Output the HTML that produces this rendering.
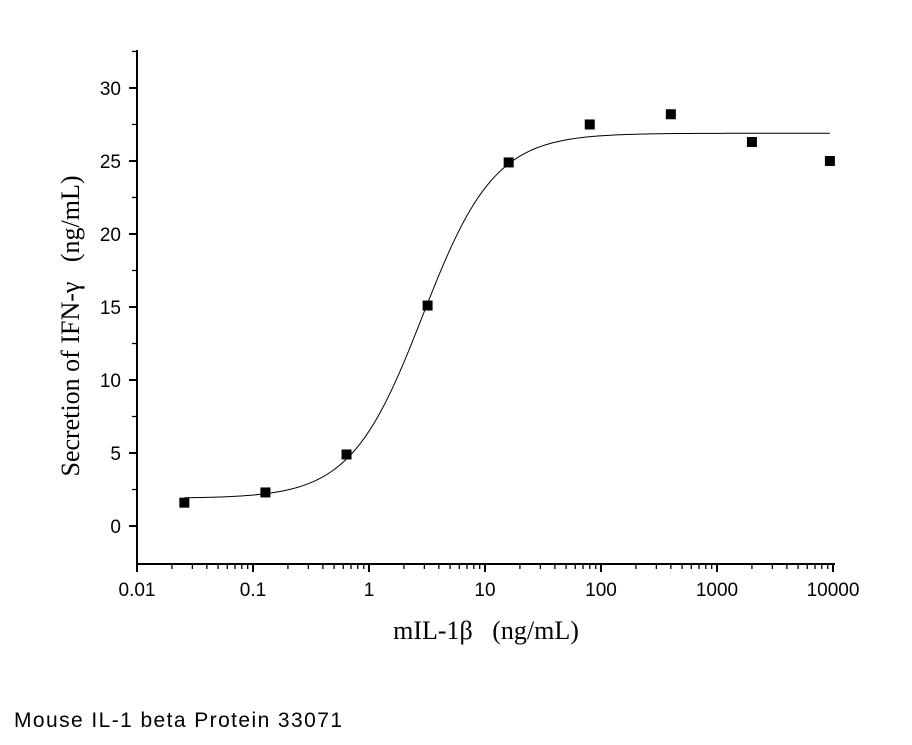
<!DOCTYPE html>
<html><head><meta charset="utf-8"><style>
body{margin:0;background:#fff;}
svg{display:block}
</style></head><body>
<svg id="chart" width="912" height="745" xmlns="http://www.w3.org/2000/svg">
<g id="axes"></g><g id="curve"></g><g id="points"></g>
<text x="14" y="727" font-family="Liberation Sans, sans-serif" font-size="21" textLength="328" lengthAdjust="spacing">Mouse IL-1 beta Protein 33071</text>
<text x="486" y="639" text-anchor="middle" font-family="Liberation Serif, serif" font-size="26" xml:space="preserve" style="white-space:pre">mIL-1β   (ng/mL)</text>
<text transform="translate(79,326) rotate(-90)" text-anchor="middle" font-family="Liberation Serif, serif" font-size="26" xml:space="preserve" style="white-space:pre">Secretion of IFN-γ   (ng/mL)</text>
</svg>
<script>
const doses=[0.0256,0.128,0.64,3.2,16,80,400,2000,9400];
const secretion=[1.6,2.3,4.9,15.1,24.9,27.5,28.2,26.3,25.0];
const xTicks=[0.01,0.1,1,10,100,1000,10000];
const xTickLabels=["0.01","0.1","1","10","100","1000","10000"];
const yTicks=[0,5,10,15,20,25,30];
const fitParams=[1.9,26.9,2.9,1.4]; // bottom, top, EC50, hill

const NS="http://www.w3.org/2000/svg";
const X0=137,X1=833,Y0=564,Y1=50;
const xMin=-2,xMax=4,yMin=-2.6,yMax=32.6;
function xs(v){return X0+(Math.log10(v)-xMin)/(xMax-xMin)*(X1-X0);}
function ys(v){return Y0-(v-yMin)/(yMax-yMin)*(Y0-Y1);}
function mk(tag,attrs,parent){const e=document.createElementNS(NS,tag);for(const k in attrs)e.setAttribute(k,attrs[k]);parent.appendChild(e);return e;}
const axes=document.getElementById('axes');
let a=mk('line',{x1:X0,y1:Y1,x2:X0,y2:Y0,stroke:'#000','stroke-width':2},axes);


a=mk('line',{x1:X0,y1:Y0,x2:X1+2,y2:Y0,stroke:'#000','stroke-width':2},axes);


xTicks.forEach((t,i)=>{
  const x=xs(t);
  mk('line',{x1:x,y1:Y0,x2:x,y2:Y0+8,stroke:'#000','stroke-width':2},axes);
  if(i<xTicks.length-1){for(let m=2;m<10;m++){const xm=xs(t*m);mk('line',{x1:xm,y1:Y0,x2:xm,y2:Y0+5,stroke:'#000','stroke-width':1.3},axes);}}
  const tx=mk('text',{x:x,y:Y0+32,'text-anchor':'middle','font-family':'Liberation Sans, sans-serif','font-size':19},axes);
  tx.textContent=xTickLabels[i];
  
  
});
yTicks.forEach((t)=>{
  const y=ys(t);
  mk('line',{x1:X0-8,y1:y,x2:X0,y2:y,stroke:'#000','stroke-width':2},axes);
  const ym=ys(t+2.5);
  if(ym>Y1)mk('line',{x1:X0-5,y1:ym,x2:X0,y2:ym,stroke:'#000','stroke-width':1.3},axes);
  const ty=mk('text',{x:X0-16,y:y+7,'text-anchor':'end','font-family':'Liberation Sans, sans-serif','font-size':19},axes);
  ty.textContent=String(t);
  
  
});
// curve
const [b,tp,ec,h]=fitParams;
let d='';
const l0=Math.log10(doses[0]),l1=Math.log10(doses[doses.length-1]);
for(let i=0;i<=300;i++){const lx=l0+(l1-l0)*i/300;const v=Math.pow(10,lx);const yv=b+(tp-b)/(1+Math.pow(ec/v,h));d+=(i?'L':'M')+xs(v).toFixed(2)+','+ys(yv).toFixed(2);}
const c=mk('path',{d:d,fill:'none',stroke:'#000','stroke-width':1},document.getElementById('curve'));


const pg=document.getElementById('points');
doses.forEach((v,i)=>{
  const r=mk('rect',{x:xs(v)-5,y:ys(secretion[i])-5,width:10,height:10,fill:'#000'},pg);
  
  
});
</script>
</body></html>
